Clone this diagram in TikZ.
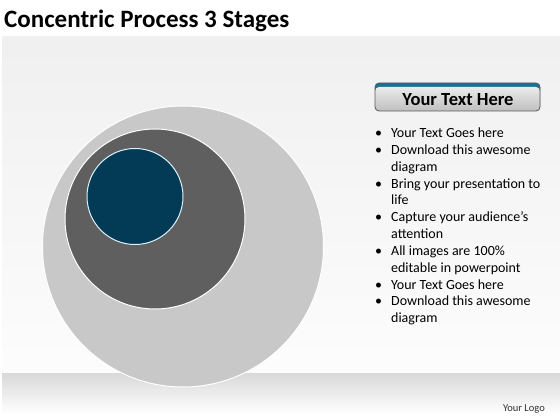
\documentclass[tikz,border=0pt]{standalone}
\usepackage{fontspec}
\setmainfont{Carlito}
\usepackage{xcolor}
\definecolor{ringlight}{HTML}{C8C8C8}
\definecolor{ringdark}{HTML}{5F5F5F}
\definecolor{ringcore}{HTML}{033B56}
\definecolor{headblue}{HTML}{1B6F97}
\tikzset{
  ring/.style={circle, draw=white, line width=1pt, inner sep=0pt},
  listtext/.style={font=\fontsize{14}{16.85}\selectfont, inner sep=0pt, align=left}
}
\begin{document}
\begin{tikzpicture}[x=1pt, y=-1pt]
      \useasboundingbox (0,0) rectangle (560,420);
      % background
      \fill[white] (0,0) rectangle (560,420);
      \shade[top color=black!6, bottom color=black!1] (2,37) rectangle (560,373);
      \shade[top color=black!15, bottom color=white] (2,373) rectangle (560,414);

      \node[anchor=base west, inner sep=0pt, font=\fontsize{25}{28}\selectfont\bfseries] (title) at (4,28) {Concentric Process 3 Stages};

      % rings
      \node[ring, fill=ringlight, minimum size=281pt] (outer) at (183,246.5) {};
      \node[ring, fill=ringdark, minimum size=180pt] (middle) at (155,219) {};
      \node[ring, fill=ringcore, draw=white!85!cyan, minimum size=96pt] (inner) at (135,196.5) {};

      % header
      \fill[headblue, rounded corners=4pt] (375,83) rectangle (540,111);
      \shade[top color=black!8, bottom color=black!25, rounded corners=4pt] (375,87) rectangle (540,111);
      \draw[black!65, line width=0.8pt, rounded corners=4pt] (375,83) rectangle (540,111);
      \node[font=\fontsize{18.5}{20}\selectfont\bfseries, inner sep=0pt] (head) at (458,99.5) {Your Text Here};

      % list
      \node[listtext, anchor=north west] (list) at (375,125.5) {%
        \begin{tabular}{@{}l@{\hspace{9pt}}l@{}}
        \textbullet & Your Text Goes here\\
        \textbullet & Download this awesome\\
                    & diagram\\
        \textbullet & Bring your presentation to\\
                    & life\\
        \textbullet & Capture your audience’s\\
                    & attention\\
        \textbullet & All images are 100\%\\
                    & editable in powerpoint\\
        \textbullet & Your Text Goes here\\
        \textbullet & Download this awesome\\
                    & diagram
        \end{tabular}};

      \node[anchor=base east, inner sep=0pt, font=\fontsize{10.5}{12}\selectfont, text=black!80] (logo) at (545,411) {Your Logo};
    \end{tikzpicture}
\end{document}
